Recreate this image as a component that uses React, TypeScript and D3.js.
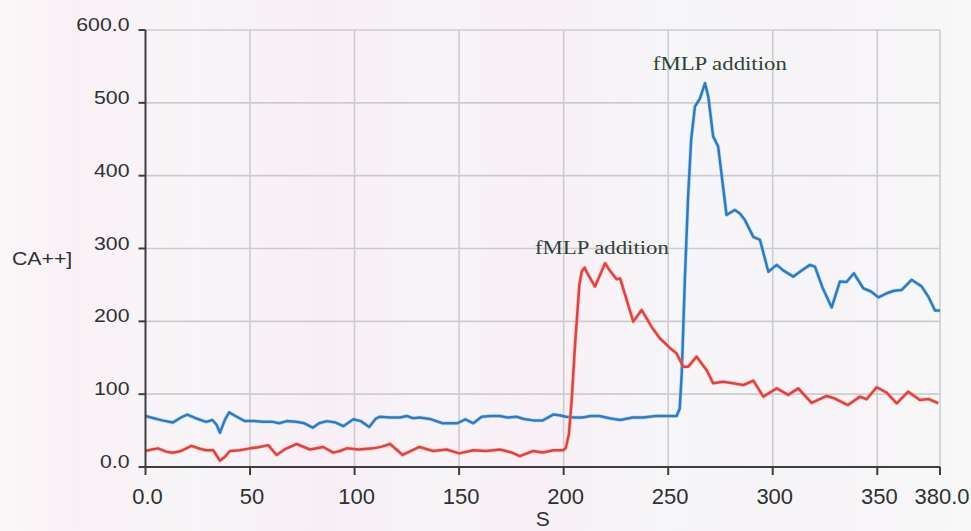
import React from "react";
import * as d3 from "d3";

// Time (s) and [Ca++] readings for the two traces
const blueTimes = [
  0, 4, 8, 13, 17, 20, 24, 29, 32, 34, 35.6, 38, 40, 43, 47.5, 52, 56, 61, 64, 67.5,
  72, 76, 80, 83, 86.7, 91, 94.6, 99.4, 103, 107, 110, 112, 117, 121.7, 125, 128, 131,
  136, 142, 149, 153, 156.8, 160.8, 165, 169.5, 173, 177.5, 181, 185.5, 190, 195, 198,
  201, 205, 209, 213, 217, 222, 227, 233, 238, 244, 250, 254, 255.5, 256.5, 258, 259.5,
  261, 262.8, 265.2, 267.6, 269.2, 271.5, 273.9, 277.9, 281.9, 284.3, 286.7, 290.7,
  293.9, 297.9, 301.9, 305, 309.8, 314, 317.8, 320.2, 324, 328.2, 332.1, 335.3, 338.8,
  343.3, 347, 350.5, 354.5, 358, 361.6, 366.4, 371.2, 374.4, 377.6, 380,
];
const blueValues = [
  70, 67, 64, 61, 68, 72, 67, 62, 64.5, 58, 47, 65, 75, 70, 63, 63, 62, 62, 60, 63,
  62, 60, 54, 60, 63, 61, 56, 65.5, 63, 55, 66, 69, 68, 68, 70, 67, 68,
  66, 60, 60, 65.5, 60, 69, 70, 70, 68, 69, 66, 64, 64, 72, 71,
  69, 68, 68, 70, 70, 67, 64.5, 68, 68, 70, 70, 70, 80, 130, 260, 370,
  450, 495, 506, 527, 508, 454, 440, 346, 353, 348, 339, 316,
  311.8, 268, 277.5, 270, 261.4, 270, 277.5, 275, 245, 219, 254.6, 254, 266,
  245.4, 241, 233, 238.5, 242, 243, 257, 248, 234, 215, 215,
];

const redTimes = [
  0, 3, 6, 10, 13, 17, 22, 26, 29, 32.4, 35.6, 38, 40.4, 45, 50, 54, 58.7, 62.7, 67,
  72.3, 78.7, 85, 89.8, 93, 96.2, 102, 109, 113, 117, 123, 127, 131, 137.6, 144, 150,
  156.8, 163, 169.5, 175, 179, 185.5, 190, 195, 199.8, 201, 202.5, 203.8, 205.5, 207.5,
  208.6, 210, 211.5, 215, 219.8, 222, 225.3, 227, 233.3, 237.3, 242, 246, 250.8, 254,
  257.2, 259.6, 263.6, 268.4, 271.5, 276.3, 281, 286, 290.7, 295.5, 301.9, 307.4, 312.2,
  318.6, 325.8, 329.7, 336, 341.7, 344.9, 349.7, 354.5, 359.3, 364.8, 370.4, 374.4, 379.2,
];
const redValues = [
  22, 24, 25.6, 21, 19.7, 22, 29, 25, 23, 23, 8.7, 14, 22, 23, 25.6, 27, 30, 16.5, 25,
  31.6, 24, 27.5, 19.7, 22, 25.6, 24, 25.6, 28, 31.6, 16.5, 22, 27.5, 22, 24, 18.7,
  23, 22, 24, 20, 15, 22, 20, 23, 23, 26, 45, 90, 170, 250,
  268, 273.8, 265, 247.7, 279.8, 270, 257.8, 259, 199.6, 215.6, 192.7, 176.8, 163.5, 156,
  137.8, 137.8, 151.5, 133, 115, 117, 115, 112.6, 118.6, 96.6, 108, 99, 108,
  88, 97.5, 94, 85, 96.6, 93, 109.5, 102, 87.5, 103.4, 92, 93.4, 87.5,
];

const xTickValues = [0, 50, 100, 150, 200, 250, 300, 350, 380];
const xTickLabels = ["0.0", "50", "100", "150", "200", "250", "300", "350", "380.0"];
const yTickValues = [0, 100, 200, 300, 400, 500, 600];
const yTickLabels = ["0.0", "100", "200", "300", "400", "500", "600.0"];

const annotationTimes = [218.3, 274.7];
const annotationLevels = [292.6, 545];
const annotationTexts = ["fMLP addition", "fMLP addition"];

const W = 971;
const H = 531;

export default function App() {
  const x = d3.scaleLinear().domain([0, 380]).range([145.5, 940]);
  const y = d3.scaleLinear().domain([0, 600]).range([467, 30]);

  const line = d3
    .line<[number, number]>()
    .x((d) => x(d[0]))
    .y((d) => y(d[1]));

  const bluePath = line(blueTimes.map((t, i) => [t, blueValues[i]]) as [number, number][]) || "";
  const redPath = line(redTimes.map((t, i) => [t, redValues[i]]) as [number, number][]) || "";

  const axisColor = "#3d3f3f";
  const gridColor = "#cdcccf";
  const textColor = "#2f3131";
  const x0 = x(0);
  const x1 = x(380);
  const yTop = y(600);
  const yBase = y(0);

  return (
    <svg
      width={W}
      height={H}
      viewBox={`0 0 ${W} ${H}`}
      style={{ position: "absolute", left: 0, top: 0, display: "block" }}
    >
      <defs>
        <linearGradient id="paper" x1="0" y1="0" x2="1" y2="0">
          <stop offset="0" stopColor="#fbf7f9" />
          <stop offset="0.08" stopColor="#f9f1f6" />
          <stop offset="0.2" stopColor="#f7f5f7" />
          <stop offset="0.33" stopColor="#f8eff6" />
          <stop offset="0.45" stopColor="#f7f4f7" />
          <stop offset="0.55" stopColor="#f8f0f6" />
          <stop offset="0.68" stopColor="#f6f5f7" />
          <stop offset="0.85" stopColor="#f7f4f7" />
          <stop offset="1" stopColor="#f8f8f8" />
        </linearGradient>
      </defs>
      <rect x={0} y={0} width={W} height={H} fill="url(#paper)" />

      {/* grid */}
      <g stroke={gridColor} strokeWidth={1.6}>
        {xTickValues
          .filter((v) => v > 0)
          .map((v) => (
            <line key={`gx${v}`} x1={x(v)} x2={x(v)} y1={yTop} y2={yBase} />
          ))}
        {yTickValues
          .filter((v) => v > 0)
          .map((v) => (
            <line key={`gy${v}`} x1={x0} x2={x1} y1={y(v)} y2={y(v)} />
          ))}
      </g>

      {/* data traces */}
      <path d={bluePath} fill="none" stroke="#8cc6ee" strokeWidth={4} strokeLinejoin="round" opacity={0.45} />
      <path d={bluePath} fill="none" stroke="#2a7cc8" strokeWidth={2.5} strokeLinejoin="round" />
      <path d={redPath} fill="none" stroke="#f6b06a" strokeWidth={4} strokeLinejoin="round" opacity={0.45} />
      <path d={redPath} fill="none" stroke="#e63d48" strokeWidth={2.5} strokeLinejoin="round" />

      {/* axes */}
      <g stroke={axisColor} strokeWidth={2} fill="none">
        <line x1={x0} x2={x0} y1={yTop} y2={yBase} />
        <line x1={x0} x2={x1} y1={yBase} y2={yBase} />
        {yTickValues.map((v) => (
          <line key={`ty${v}`} x1={x0 - 7} x2={x0} y1={y(v)} y2={y(v)} />
        ))}
        {xTickValues.map((v) => (
          <line key={`tx${v}`} x1={x(v)} x2={x(v)} y1={yBase} y2={yBase + 8} />
        ))}
      </g>

      {/* tick labels */}
      <g fill={textColor} fontFamily="'Liberation Sans', Arial, sans-serif">
        {yTickValues.map((v, i) => (
          <text
            key={`ly${v}`}
            transform={`translate(${x0 - 16},${y(v) + 1}) scale(1.15,1)`}
            fontSize={18.5}
            textAnchor="end"
          >
            {yTickLabels[i]}
          </text>
        ))}
        {xTickValues.map((v, i) => (
          <text key={`lx${v}`} x={x(v) + 2} y={504} fontSize={22} textAnchor="middle">
            {xTickLabels[i]}
          </text>
        ))}
        <text x={(x0 + x1) / 2} y={526} fontSize={21} textAnchor="middle">
          S
        </text>
        <text transform="translate(12,265) scale(1.15,1)" fontSize={18.5}>
          CA++]
        </text>
      </g>

      {/* annotations */}
      <g fill="#2f4238" fontFamily="'Liberation Serif', 'Times New Roman', serif">
        {annotationTexts.map((s, i) => (
          <text
            key={`a${i}`}
            x={x(annotationTimes[i])}
            y={y(annotationLevels[i])}
            fontSize={19}
            textAnchor="middle"
            textLength={134}
            lengthAdjust="spacingAndGlyphs"
          >
            {s}
          </text>
        ))}
      </g>
    </svg>
  );
}
